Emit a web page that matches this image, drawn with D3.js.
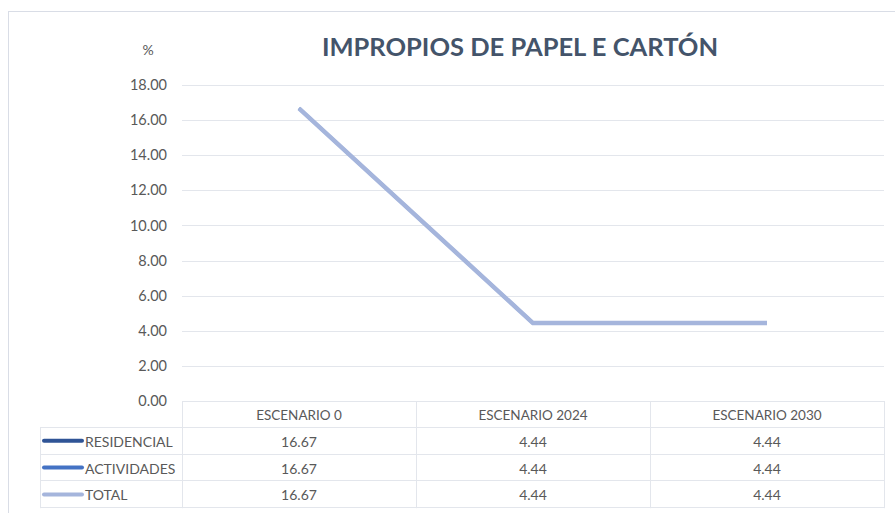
<!DOCTYPE html>
<html>
<head>
<meta charset="utf-8">
<script src="https://cdn.jsdelivr.net/npm/d3@7"></script>
<style>
  body { margin: 0; background: #fff; }
  text { font-family: "Lato", "Open Sans", sans-serif; }
</style>
</head>
<body>
<svg id="canvas" width="895" height="513"></svg>
<script>
// data
const categories = ['ESCENARIO 0', 'ESCENARIO 2024', 'ESCENARIO 2030'];
const seriesNames = ['RESIDENCIAL', 'ACTIVIDADES', 'TOTAL'];
const residencial = [16.67, 4.44, 4.44];
const actividades = [16.67, 4.44, 4.44];
const total = [16.67, 4.44, 4.44];
const yTicks = [0, 2, 4, 6, 8, 10, 12, 14, 16, 18];
const colors = ['#2f5496', '#4472c4', '#a5b5dc'];

const series = [residencial, actividades, total].map((vals, i) => ({
    name: seriesNames[i], values: vals, color: colors[i]
}));

let canvas = d3.select('#canvas');

// chart frame
canvas.append('rect')
    .attr('x', 8.5).attr('y', 11.5)
    .attr('width', 900).attr('height', 520)
    .attr('fill', 'none').attr('stroke', '#d9dde6');

const plotLeft = 182, plotRight = 884, plotTop = 85, plotBottom = 401;

let x = d3.scaleBand().domain(categories).range([plotLeft, plotRight]);
let y = d3.scaleLinear().domain([0, 18]).range([plotBottom, plotTop]);

// gridlines
canvas.append('g')
    .selectAll('line')
    .data(yTicks.filter(d => d > 0))
    .enter()
    .append('line')
    .attr('x1', plotLeft).attr('x2', plotRight)
    .attr('y1', d => Math.round(y(d)) + 0.5)
    .attr('y2', d => Math.round(y(d)) + 0.5)
    .attr('stroke', '#e3e6ec');

// y axis labels
let yAxis = d3.axisLeft(y).tickValues(yTicks).tickFormat(d3.format('.2f')).tickSize(0).tickPadding(15);
let yg = canvas.append('g').attr('transform', `translate(${plotLeft},0)`).call(yAxis);
yg.select('.domain').remove();
yg.selectAll('text')
    .attr('fill', '#595959')
    .attr('font-size', 14.5)
    .style('font-family', 'Lato, sans-serif');

// unit label
canvas.append('text')
    .attr('x', 148).attr('y', 55)
    .attr('text-anchor', 'middle')
    .attr('font-size', 14)
    .attr('fill', '#595959')
    .text('%');

// title
canvas.append('text')
    .attr('x', 520).attr('y', 56)
    .attr('text-anchor', 'middle')
    .attr('font-size', 25.5)
    .attr('font-weight', 'bold')
    .attr('fill', '#44546a')
    .text('IMPROPIOS DE PAPEL E CARTÓN');

// lines (TOTAL drawn last, on top)
let line = d3.line()
    .x((d, i) => x(categories[i]) + x.bandwidth() / 2)
    .y(d => y(d));

canvas.append('g')
    .selectAll('path')
    .data(series)
    .enter()
    .append('path')
    .attr('d', d => line(d.values))
    .attr('fill', 'none')
    .attr('stroke', d => d.color)
    .attr('stroke-width', (d, i) => i === series.length - 1 ? 4.5 : 3)
    .attr('stroke-linejoin', 'round');

// data table
const rowH = 26.8;
const tableTop = plotBottom;
const legendLeft = 40;
let table = canvas.append('g');

table.append('line')
    .attr('x1', plotLeft).attr('x2', plotRight)
    .attr('y1', tableTop + 0.5).attr('y2', tableTop + 0.5)
    .attr('stroke', '#e3e6ec');
for (let r = 1; r <= series.length + 1; r++) {
    let ly = Math.round(tableTop + r * rowH) - 0.5;
    table.append('line')
        .attr('x1', legendLeft).attr('x2', plotRight)
        .attr('y1', ly).attr('y2', ly)
        .attr('stroke', '#e3e6ec');
}
table.append('line')
    .attr('x1', legendLeft + 0.5).attr('x2', legendLeft + 0.5)
    .attr('y1', tableTop + rowH).attr('y2', tableTop + (series.length + 1) * rowH)
    .attr('stroke', '#e3e6ec');
table.selectAll('.vline')
    .data(categories.concat(['end']))
    .enter()
    .append('line')
    .attr('class', 'vline')
    .attr('x1', (d, i) => (i < categories.length ? x(d) : plotRight) + 0.5)
    .attr('x2', (d, i) => (i < categories.length ? x(d) : plotRight) + 0.5)
    .attr('y1', tableTop).attr('y2', tableTop + (series.length + 1) * rowH)
    .attr('stroke', '#e3e6ec');

// header text
table.selectAll('.head')
    .data(categories)
    .enter()
    .append('text')
    .attr('class', 'head')
    .attr('x', d => x(d) + x.bandwidth() / 2)
    .attr('y', tableTop + 19)
    .attr('text-anchor', 'middle')
    .attr('font-size', 13.5)
    .attr('fill', '#595959')
    .text(d => d);

// rows
series.forEach((s, r) => {
    let rowY = tableTop + (r + 1) * rowH;
    table.append('line')
        .attr('x1', legendLeft + 4).attr('x2', legendLeft + 42)
        .attr('y1', rowY + 13).attr('y2', rowY + 13)
        .attr('stroke', s.color)
        .attr('stroke-width', 4)
        .attr('stroke-linecap', 'round');
    table.append('text')
        .attr('x', legendLeft + 45)
        .attr('y', rowY + 19)
        .attr('font-size', 14)
        .attr('fill', '#595959')
        .text(s.name);
    table.selectAll('.v' + r)
        .data(s.values)
        .enter()
        .append('text')
        .attr('x', (d, i) => x(categories[i]) + x.bandwidth() / 2)
        .attr('y', rowY + 19)
        .attr('text-anchor', 'middle')
        .attr('font-size', 14)
        .attr('fill', '#595959')
        .text(d => d.toFixed(2));
});
</script>
</body>
</html>
